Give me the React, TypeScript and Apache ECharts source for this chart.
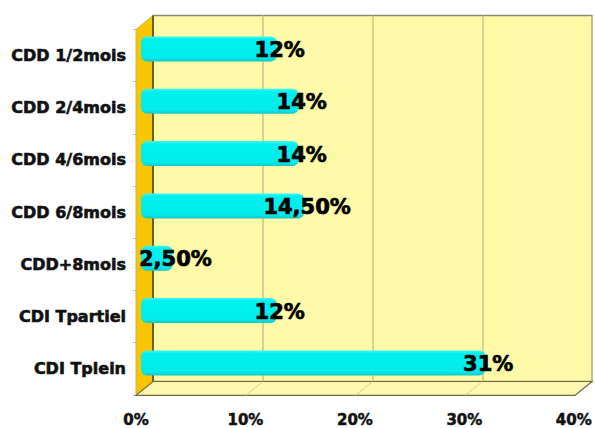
import React, { useEffect, useRef } from "react";
import * as echarts from "echarts";

const categories = ["CDD 1/2mois", "CDD 2/4mois", "CDD 4/6mois", "CDD 6/8mois", "CDD+8mois", "CDI Tpartiel", "CDI Tplein"];
const values = [12, 14, 14, 14.5, 2.5, 12, 31];
const valueLabels = ["12%", "14%", "14%", "14,50%", "2,50%", "12%", "31%"];
const xMin = 0;
const xMax = 40;
const xStep = 10;

// layout (pixels)
const FRONT = { left: 136, top: 29.4, width: 439, height: 366 };
const BARS = { left: 145, top: 22.8, width: 439, height: 366.3 };
const BACK = { left: 153, top: 15.5, width: 439, height: 366 };

export default function App() {
  const ref = useRef<HTMLDivElement>(null);
  useEffect(() => {
    if (!ref.current) return;
    const chart = echarts.init(ref.current, undefined, { renderer: "svg" });
    const font = "DejaVu Sans";
    const fb = FRONT.top + FRONT.height;
    const bb = BACK.top + BACK.height;
    const graphics: any[] = [
      {
        type: "polygon",
        z: 1,
        shape: { points: [[FRONT.left, FRONT.top], [BACK.left, BACK.top], [BACK.left, bb], [FRONT.left, fb]] },
        style: { fill: "#F7C600", stroke: "#c9b060", lineWidth: 1 },
      },
      {
        type: "line",
        z: 1,
        shape: { x1: BACK.left, y1: BACK.top, x2: BACK.left, y2: bb },
        style: { stroke: "#4a4020", lineWidth: 1.5 },
      },
      {
        type: "polygon",
        z: 1,
        shape: { points: [[FRONT.left, fb], [BACK.left, bb], [BACK.left + BACK.width, bb], [FRONT.left + FRONT.width, fb]] },
        style: { fill: "#FFF7B2", stroke: "#6e6a3a", lineWidth: 1.2 },
      },
    ];
    const nSteps = (xMax - xMin) / xStep;
    for (let i = 1; i < nSteps; i++) {
      const fx = FRONT.left + (FRONT.width * i) / nSteps;
      const bx = BACK.left + (BACK.width * i) / nSteps;
      graphics.push({
        type: "line",
        z: 1,
        shape: { x1: fx, y1: fb, x2: bx, y2: bb },
        style: { stroke: "#d4cf9c", lineWidth: 1 },
      });
    }

    const barGradient = new echarts.graphic.LinearGradient(0, 0, 0, 1, [
      { offset: 0, color: "#3ff5f5" },
      { offset: 0.12, color: "#00f0f0" },
      { offset: 0.85, color: "#00ecec" },
      { offset: 1, color: "#18c6c6" },
    ]);

    chart.setOption({
      animation: false,
      backgroundColor: "#ffffff",
      graphic: graphics,
      grid: [
        { ...FRONT, containLabel: false },
        { ...BARS, containLabel: false },
        {
          ...BACK,
          containLabel: false,
          show: true,
          backgroundColor: "#FFFAA8",
          borderColor: "#8a8a6a",
          borderWidth: 1.5,
        },
      ],
      xAxis: [
        {
          gridIndex: 0,
          type: "value",
          min: xMin,
          max: xMax,
          interval: xStep,
          axisLine: { show: false },
          axisTick: { show: false },
          splitLine: { show: false },
          axisLabel: {
            formatter: (v: number) => v + "%",
            fontFamily: font,
            fontWeight: "bold",
            fontSize: 15,
            color: "#111",
            textBorderColor: "#111",
            textBorderWidth: 0.5,
            margin: 18,
          },
        },
        {
          gridIndex: 1,
          type: "value",
          min: xMin,
          max: xMax,
          show: false,
        },
        {
          gridIndex: 2,
          type: "value",
          min: xMin,
          max: xMax,
          interval: xStep,
          axisLine: { show: false },
          axisTick: { show: false },
          axisLabel: { show: false },
          splitLine: { show: true, lineStyle: { color: "#cbc48a", width: 1.5 } },
        },
      ],
      yAxis: [
        {
          gridIndex: 0,
          type: "category",
          data: categories,
          inverse: true,
          axisLine: { show: true, lineStyle: { color: "#c8c8c8" } },
          axisTick: { show: true, length: 3, lineStyle: { color: "#bdbdbd" } },
          splitLine: { show: false },
          axisLabel: {
            fontFamily: font,
            fontWeight: "bold",
            fontSize: 16,
            color: "#111",
            textBorderColor: "#111",
            textBorderWidth: 0.6,
            margin: 10,
          },
        },
        {
          gridIndex: 1,
          type: "category",
          data: categories,
          inverse: true,
          show: false,
        },
        {
          gridIndex: 2,
          type: "value",
          show: false,
          splitLine: { show: false },
        },
      ],
      series: [
        {
          type: "custom",
          xAxisIndex: 1,
          yAxisIndex: 1,
          z: 5,
          data: values.map((v, i) => [v, i]),
          encode: { x: 0, y: 1 },
          renderItem: (params: any, api: any) => {
            const v = api.value(0);
            const idx = api.value(1);
            const s = api.coord([0, idx]);
            const e = api.coord([v, idx]);
            const h = 25;
            return {
              type: "group",
              children: [
                {
                  type: "rect",
                  shape: { x: s[0] - 4, y: e[1] - h / 2, width: e[0] - s[0] + 4, height: h, r: 6 },
                  style: { fill: barGradient },
                },
                {
                  type: "text",
                  style: {
                    text: valueLabels[params.dataIndex],
                    x: e[0] + 3,
                    y: e[1] + 1,
                    align: "center",
                    verticalAlign: "middle",
                    fontFamily: font,
                    fontWeight: "bold",
                    fontSize: 21,
                    fill: "#000",
                    stroke: "#000",
                    lineWidth: 0.7,
                  },
                },
              ],
            };
          },
        },
      ],
    });
    return () => chart.dispose();
  }, []);
  return (
    <div
      ref={ref}
      style={{ position: "fixed", left: 0, top: 0, width: 595, height: 428, background: "#fff" }}
    />
  );
}
